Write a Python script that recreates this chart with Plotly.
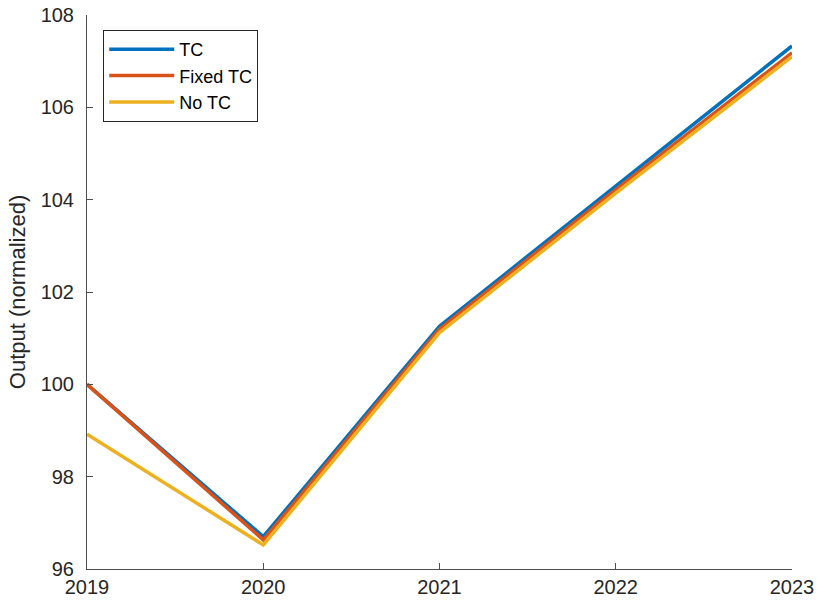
import plotly.graph_objects as go

years = [2019, 2020, 2021, 2022, 2023]
tc = [100.0, 96.70, 101.26, 104.30, 107.33]
fixed_tc = [100.0, 96.63, 101.20, 104.22, 107.18]
no_tc = [98.92, 96.52, 101.12, 104.14, 107.10]
series_names = ["TC", "Fixed TC", "No TC"]
colors = ["#0072BD", "#D95319", "#EDB120"]
y_ticks = [96, 98, 100, 102, 104, 106, 108]

fig = go.Figure()
for name, vals, col in zip(series_names, [tc, fixed_tc, no_tc], colors):
    fig.add_trace(go.Scatter(x=years, y=vals, mode="lines", name=name,
                             line=dict(color=col, width=3.5)))

axis_col = "#4d4d4d"
fig.update_layout(
    width=817, height=608,
    margin=dict(l=87, r=25, t=15, b=39, autoexpand=False),
    plot_bgcolor="white", paper_bgcolor="white",
    font=dict(family="Liberation Sans, Arial, sans-serif", size=20, color="#262626"),
    showlegend=True,
    legend=dict(x=0.023, y=0.973, xanchor="left", yanchor="top",
                bordercolor="#262626", borderwidth=1, bgcolor="white",
                font=dict(size=18, color="#000000"), itemwidth=65,
                tracegroupgap=0),
    xaxis=dict(range=[2019, 2023], tickvals=years, ticktext=[str(y) for y in years],
               showgrid=False, zeroline=False, showline=True, linecolor=axis_col,
               linewidth=1, ticks="inside", ticklen=6, tickcolor=axis_col,
               automargin=False, ticklabeloverflow="allow",
               tickfont=dict(size=20, color="#262626")),
    yaxis=dict(range=[96, 108], tickvals=y_ticks, showgrid=False, zeroline=False,
               showline=True, linecolor=axis_col, linewidth=1, ticks="inside",
               ticklen=6, tickcolor=axis_col, tickfont=dict(size=20, color="#262626"),
               automargin=False, ticklabeloverflow="allow", ticklabelstandoff=8,
               title=dict(text="Output (normalized)", font=dict(size=22, color="#262626"),
                          standoff=8)),
)
fig.write_html("out.html", config={"displayModeBar": False},
               post_script="document.body.style.margin='0';document.body.style.overflow='hidden';")
